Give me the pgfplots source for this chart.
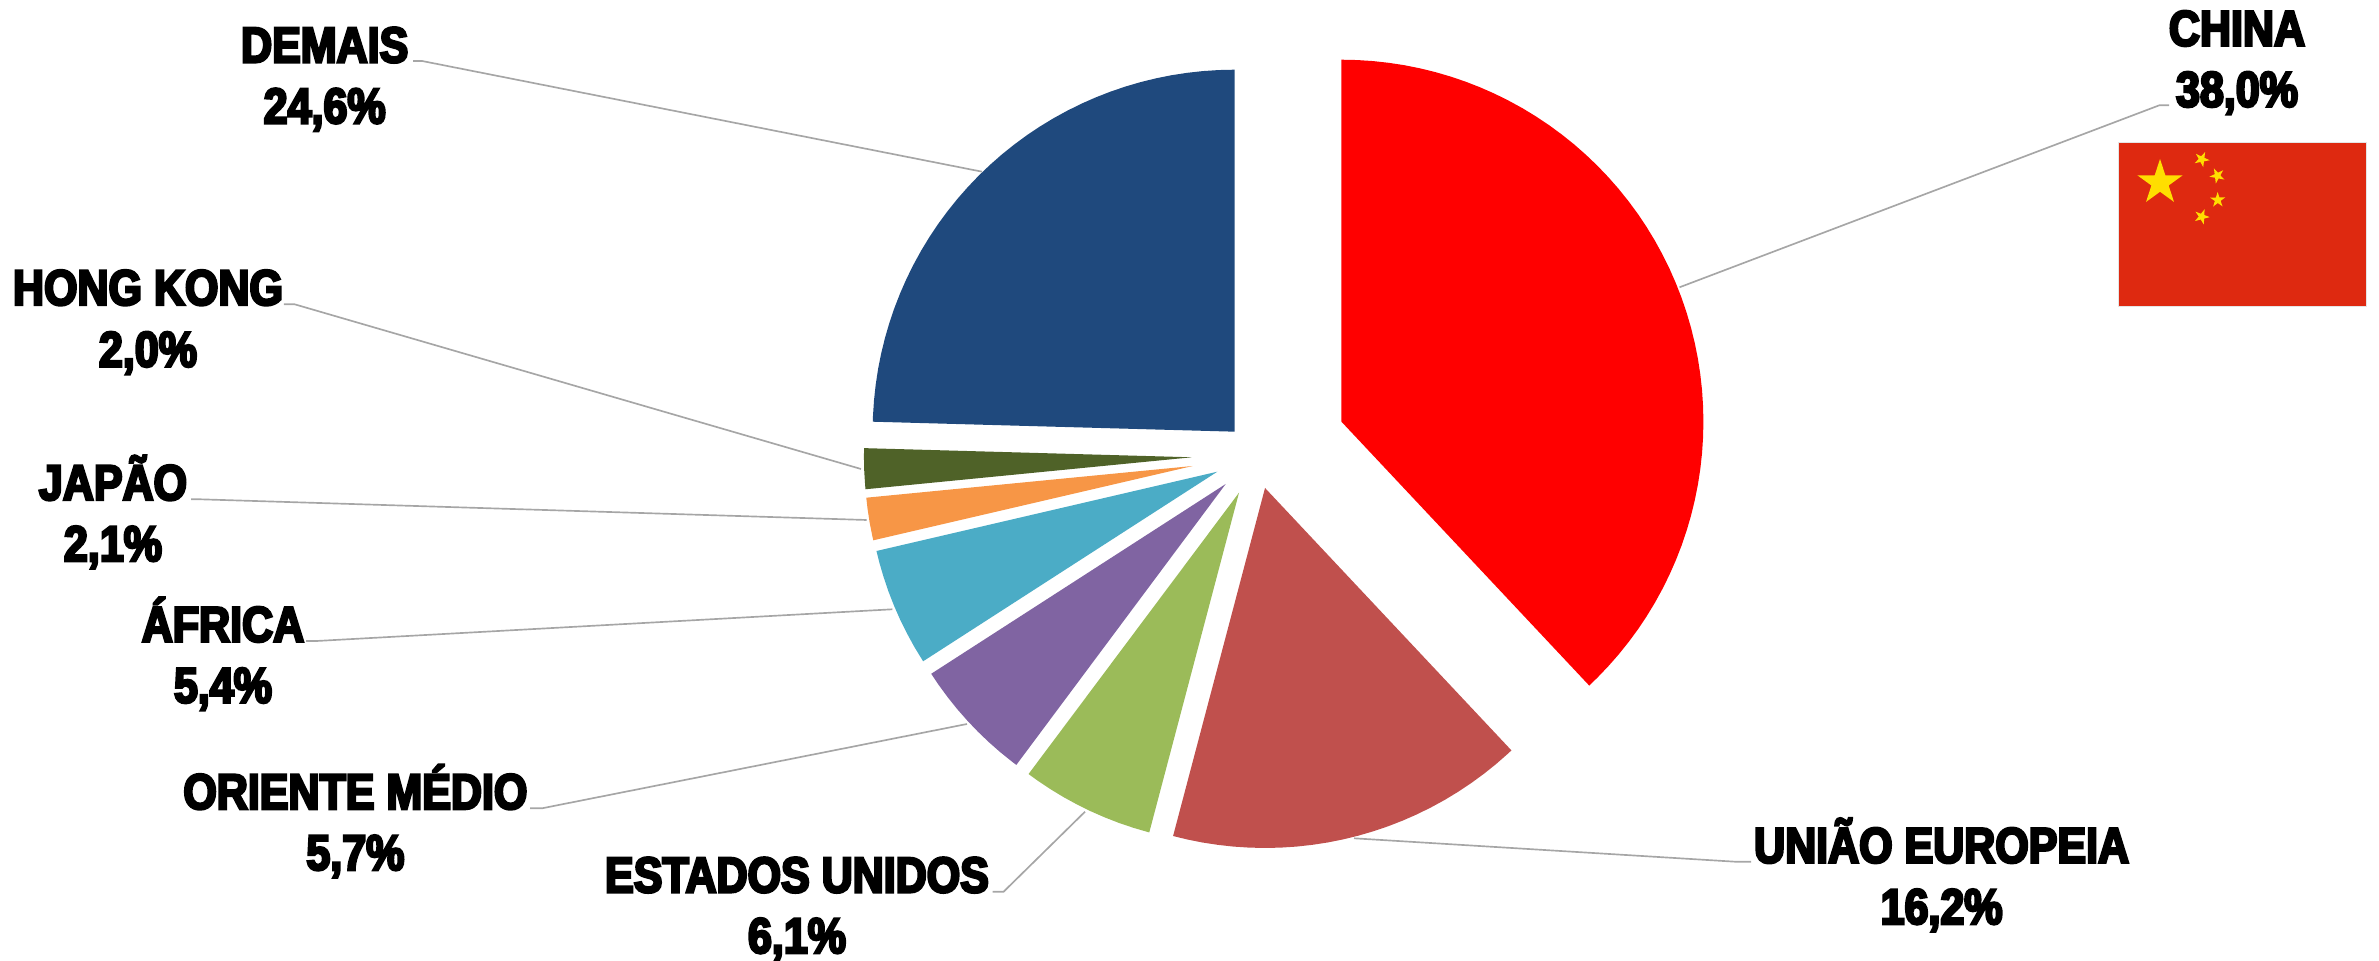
\documentclass[border=0pt]{standalone}
\usepackage{fontspec}
\setmainfont{Liberation Sans}[BoldFeatures={FakeStretch=0.86,FakeBold=5}]
\usepackage{pgfplots}
\usepgfplotslibrary{polar}
\pgfplotsset{compat=1.18}
\definecolor{lead}{HTML}{A6A6A6}
\definecolor{flagred}{HTML}{DE2910}
\definecolor{flagyellow}{HTML}{FFDE00}
\definecolor{cChina}{HTML}{FF0000}
\definecolor{cEU}{HTML}{C0504D}
\definecolor{cUS}{HTML}{9BBB59}
\definecolor{cOM}{HTML}{8064A2}
\definecolor{cAF}{HTML}{4BACC6}
\definecolor{cJP}{HTML}{F79646}
\definecolor{cHK}{HTML}{4F6228}
\definecolor{cDE}{HTML}{1F497D}
\pgfdeclareplotmark{fivestar}{%
  \pgfmathsetlengthmacro\ro{\pgfplotmarksize}%
  \pgfmathsetlengthmacro\ri{0.382*\pgfplotmarksize}%
  \pgfpathmoveto{\pgfpointpolar{90}{\ro}}%
  \pgfpathlineto{\pgfpointpolar{126}{\ri}}%
  \pgfpathlineto{\pgfpointpolar{162}{\ro}}%
  \pgfpathlineto{\pgfpointpolar{198}{\ri}}%
  \pgfpathlineto{\pgfpointpolar{234}{\ro}}%
  \pgfpathlineto{\pgfpointpolar{270}{\ri}}%
  \pgfpathlineto{\pgfpointpolar{306}{\ro}}%
  \pgfpathlineto{\pgfpointpolar{342}{\ri}}%
  \pgfpathlineto{\pgfpointpolar{18}{\ro}}%
  \pgfpathlineto{\pgfpointpolar{54}{\ri}}%
  \pgfpathclose\pgfusepathqfill}
\pgfplotsset{pieslice/.style={
  xmin=0,xmax=360,ymin=0,ymax=400,scale only axis,width=240pt,height=240pt,
  hide axis,anchor=center,clip=false}}
% #1,#2 centre of the exploded slice in reference pixels, #3 colour, #4 (angle,radius) outline
\newcommand\pieslice[4]{%
  \begin{polaraxis}[pieslice,at={({#1*0.3pt},{(961-#2)*0.3pt})}]
    \addplot[fill=#3,draw=none] coordinates {#4};
  \end{polaraxis}}
\newcommand\lab[5]{%
  \node[anchor=base,font=\bfseries\fontsize{15}{18}\selectfont,inner sep=0pt] at (axis cs:#1,#2) {#3};
  \node[anchor=base,font=\bfseries\fontsize{15}{18}\selectfont,inner sep=0pt] at (axis cs:#1,#4) {#5};}
\begin{document}
\begin{tikzpicture}
\begin{axis}[at={(0,0)},anchor=south west,scale only axis,width=713.7pt,height=288.3pt,
  xmin=0,xmax=2379,ymin=0,ymax=961,y dir=reverse,hide axis,clip=false]
  \addplot[lead,line width=0.5pt] coordinates {(1679.5,287.3)(2159.3,105.3)(2169,105.3)};
  \addplot[lead,line width=0.5pt] coordinates {(982,171.7)(422,61)(413,61)};
  \addplot[lead,line width=0.5pt] coordinates {(861,469)(294.6,304.3)(283.8,304.3)};
  \addplot[lead,line width=0.5pt] coordinates {(866.7,520)(200,499.3)(191,499.3)};
  \addplot[lead,line width=0.5pt] coordinates {(892.3,609.3)(316.5,641)(306,641)};
  \addplot[lead,line width=0.5pt] coordinates {(967,724)(542,808.3)(530,808.3)};
  \addplot[lead,line width=0.5pt] coordinates {(1085,811.7)(1003.6,891.7)(992.7,891.7)};
  \addplot[lead,line width=0.5pt] coordinates {(1354,838.3)(1735,861.7)(1751,861.7)};
  % flag
  \addplot[fill=flagred,draw=black!10,line width=0.3pt] coordinates {(2118.3,142.3)(2366,142.3)(2366,307)(2118.3,307)(2118.3,142.3)};
  \addplot[only marks,mark=fivestar,mark size=7.14pt,color=flagyellow] coordinates {(2160,182.7)};
  \addplot[only marks,mark=fivestar,mark size=2.4pt,color=flagyellow,mark options={rotate=47}] coordinates {(2201.7,159.3)};
  \addplot[only marks,mark=fivestar,mark size=2.4pt,color=flagyellow,mark options={rotate=25}] coordinates {(2217.3,175.7)};
  \addplot[only marks,mark=fivestar,mark size=2.4pt,color=flagyellow,mark options={rotate=1}] coordinates {(2217.7,200)};
  \addplot[only marks,mark=fivestar,mark size=2.4pt,color=flagyellow,mark options={rotate=51}] coordinates {(2201.7,216.7)};
  \lab{2237}{45.7}{CHINA}{106.7}{38,0\%}
  \lab{324.7}{62.3}{DEMAIS}{123.3}{24,6\%}
  \lab{148}{305}{HONG KONG}{366.7}{2,0\%}
  \lab{113}{500}{JAPÃO}{561}{2,1\%}
  \lab{223}{641.7}{ÁFRICA}{702.7}{5,4\%}
  \lab{355.4}{809}{ORIENTE MÉDIO}{870}{5,7\%}
  \lab{797}{892.3}{ESTADOS UNIDOS}{953}{6,1\%}
  \lab{1941.6}{862.7}{UNIÃO EUROPEIA}{924}{16,2\%}
\end{axis}
\pieslice{1341.4}{421.7}{cChina}{(0,0)(-46.8,362)(-45,362)(-42.5,362)(-40,362)(-37.5,362)(-35,362)(-32.5,362)(-30,362)(-27.5,362)(-25,362)(-22.5,362)(-20,362)(-17.5,362)(-15,362)(-12.5,362)(-10,362)(-7.5,362)(-5,362)(-2.5,362)(0,362)(2.5,362)(5,362)(7.5,362)(10,362)(12.5,362)(15,362)(17.5,362)(20,362)(22.5,362)(25,362)(27.5,362)(30,362)(32.5,362)(35,362)(37.5,362)(40,362)(42.5,362)(45,362)(47.5,362)(50,362)(52.5,362)(55,362)(57.5,362)(60,362)(62.5,362)(65,362)(67.5,362)(70,362)(72.5,362)(75,362)(77.5,362)(80,362)(82.5,362)(85,362)(87.5,362)(90,362)}
\pieslice{1265}{488}{cEU}{(0,0)(-104.8,360)(-102.5,360)(-100,360)(-97.5,360)(-95,360)(-92.5,360)(-90,360)(-87.5,360)(-85,360)(-82.5,360)(-80,360)(-77.5,360)(-75,360)(-72.5,360)(-70,360)(-67.5,360)(-65,360)(-62.5,360)(-60,360)(-57.5,360)(-55,360)(-52.5,360)(-50,360)(-47.5,360)(-46.8,360)}
\pieslice{1239}{492.7}{cUS}{(0,0)(-126.8,351.4)(-125,351.4)(-122.5,351.4)(-120,351.4)(-117.5,351.4)(-115,351.4)(-112.5,351.4)(-110,351.4)(-107.5,351.4)(-105,351.4)(-104.8,351.4)}
\pieslice{1225.7}{484}{cOM}{(0,0)(-147.2,350.4)(-145,350.4)(-142.5,350.4)(-140,350.4)(-137.5,350.4)(-135,350.4)(-132.5,350.4)(-130,350.4)(-127.5,350.4)(-126.7,350.4)}
\pieslice{1217.3}{471.7}{cAF}{(0,0)(-166.9,350)(-165,350)(-162.5,350)(-160,350)(-157.5,350)(-155,350)(-152.5,350)(-150,350)(-147.5,350)(-147.2,350)}
\pieslice{1192.7}{466}{cJP}{(0,0)(-174.45,328)(-172.5,328)(-170,328)(-167.5,328)(-166.9,328)}
\pieslice{1191.7}{457.3}{cHK}{(0,0)(178.4,327.8)(180,327.8)(182.5,327.8)(185,327.8)(185.6,327.8)}
\pieslice{1234.6}{431.7}{cDE}{(0,0)(90,362)(92.5,362)(95,362)(97.5,362)(100,362)(102.5,362)(105,362)(107.5,362)(110,362)(112.5,362)(115,362)(117.5,362)(120,362)(122.5,362)(125,362)(127.5,362)(130,362)(132.5,362)(135,362)(137.5,362)(140,362)(142.5,362)(145,362)(147.5,362)(150,362)(152.5,362)(155,362)(157.5,362)(160,362)(162.5,362)(165,362)(167.5,362)(170,362)(172.5,362)(175,362)(177.5,362)(178.42,362)}
\pgfresetboundingbox
\path[use as bounding box] (0,0) rectangle (713.7pt,288.3pt);
\end{tikzpicture}
\end{document}
